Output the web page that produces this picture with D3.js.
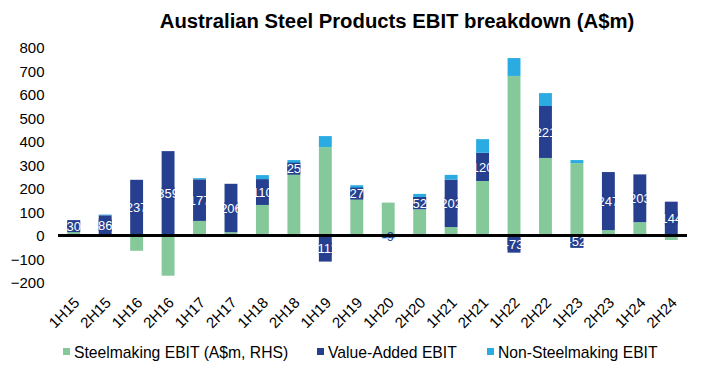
<!DOCTYPE html>
<html>
<head>
<meta charset="utf-8">
<script src="https://cdn.jsdelivr.net/npm/d3@7"></script>
<style>
  body { margin: 0; background: #fff; }
  svg { display: block; font-family: "Liberation Sans", Arial, sans-serif; }
</style>
</head>
<body>
<div id="chart"></div>
<script>
// Data
var categories  = ["1H15", "2H15", "1H16", "2H16", "1H17", "2H17", "1H18", "2H18", "1H19", "2H19",
                   "1H20", "2H20", "1H21", "2H21", "1H22", "2H22", "1H23", "2H23", "1H24", "2H24"];
var steelmaking = [25, 0, -65, -171, 62, 14, 130, 272, 376, 165, 140, 112, 36, 232, 679, 330, 308, 23, 57, -19];
var valueAdded  = [30, 86, 237, 359, 177, 206, 110, 25, -111, 27, -9, 52, 202, 120, -73, 221, -52, 247, 203, 144];
var nonSteel    = [8, 3, 0, 0, 5, 0, 17, 24, 47, 22, -3, 13, 20, 58, 76, 55, 13, 0, 0, 0];
var yTicks      = [-200, -100, 0, 100, 200, 300, 400, 500, 600, 700, 800];
var seriesNames = ["Steelmaking EBIT (A$m, RHS)", "Value-Added EBIT", "Non-Steelmaking EBIT"];

// Width and height
var chart_width  = 701;
var chart_height = 377;
var colors = ["#85c99b", "#263f8f", "#2aace3"];
var keys   = ["steel", "va", "ns"];
var font   = "'Liberation Sans', Arial, sans-serif";

// rows for the stack layout
var rows = categories.map(function(c, i) {
    return { cat: c, steel: steelmaking[i], va: valueAdded[i], ns: nonSteel[i] };
});

// positives stack up from 0, negatives stack down from 0 (like excel)
var stacked = d3.stack()
    .keys(keys)
    .offset(d3.stackOffsetDiverging)(rows);

// Scales
var x = d3.scaleBand()
    .domain(categories)
    .range([58, 687])
    .paddingInner(0.59)
    .paddingOuter(0.295);

var y = d3.scaleLinear()
    .domain([-200, 800])
    .range([282.5, 47.5]);

// SVG
var svg = d3.select("#chart")
    .append("svg")
    .attr("width", chart_width)
    .attr("height", chart_height);

// Title
svg.append("text")
    .attr("x", 397)
    .attr("y", 28)
    .attr("text-anchor", "middle")
    .style("font-size", "20.3px")
    .style("font-weight", "bold")
    .text("Australian Steel Products EBIT breakdown (A$m)");

// Y axis (labels only)
var yAxis = svg.append("g")
    .attr("transform", "translate(44.5,0)")
    .call(d3.axisLeft(y).tickValues(yTicks).tickSize(0).tickPadding(0).tickFormat(d3.format("d")));
yAxis.attr("font-family", font).attr("font-size", 15);
yAxis.select(".domain").remove();
yAxis.selectAll("text")
    .attr("fill", "#000")
    .attr("dy", "0.36em");

// Bars
svg.selectAll("g.series")
    .data(stacked)
    .enter()
    .append("g")
    .attr("class", "series")
    .attr("fill", function(d, i) { return colors[i]; })
    .selectAll("rect")
    .data(function(d) { return d; })
    .enter()
    .append("rect")
    .attr("x", function(d) { return x(d.data.cat); })
    .attr("width", x.bandwidth())
    .attr("y", function(d) { return y(Math.max(d[0], d[1])); })
    .attr("height", function(d) { return Math.abs(y(d[0]) - y(d[1])); });

// Value-added data labels
var vaSeries = stacked[1];
var labels = svg.append("g")
    .selectAll("g")
    .data(vaSeries)
    .enter()
    .append("g")
    .attr("transform", function(d) {
        return "translate(" + (x(d.data.cat) + x.bandwidth() / 2) + "," + y((d[0] + d[1]) / 2) + ")";
    });

// label box, skipped for the tiny ones
labels.filter(function(d) { return Math.abs(d.data.va) >= 15; })
    .append("rect")
    .attr("x", -x.bandwidth() / 2)
    .attr("width", x.bandwidth())
    .attr("y", -6)
    .attr("height", 12)
    .attr("fill", colors[1]);

labels.append("text")
    .attr("text-anchor", "middle")
    .attr("dy", "0.36em")
    .style("font-size", "13px")
    .attr("fill", function(d) { return Math.abs(d.data.va) >= 15 ? "#fff" : colors[1]; })
    .text(function(d) { return d.data.va; });

// Zero line
svg.append("line")
    .attr("x1", 58)
    .attr("x2", 687)
    .attr("y1", y(0))
    .attr("y2", y(0))
    .style("stroke", "#000")
    .style("stroke-width", 3);

// X labels, rotated
svg.append("g")
    .selectAll("text")
    .data(categories)
    .enter()
    .append("text")
    .attr("transform", function(d) {
        return "translate(" + (x(d) + x.bandwidth() / 2 + 3) + ",300) rotate(-45)";
    })
    .attr("text-anchor", "end")
    .attr("dy", "0.35em")
    .style("font-size", "15px")
    .text(function(d) { return d; });

// Legend
var legendX = [63, 317, 487];
var legend = svg.append("g")
    .selectAll("g")
    .data(seriesNames)
    .enter()
    .append("g")
    .attr("transform", function(d, i) { return "translate(" + legendX[i] + ",352)"; });

legend.append("rect")
    .attr("x", 0)
    .attr("y", -4)
    .attr("width", 7)
    .attr("height", 7)
    .attr("fill", function(d, i) { return colors[i]; });

legend.append("text")
    .attr("x", 11)
    .attr("dy", "0.36em")
    .style("font-size", "15.7px")
    .text(function(d) { return d; });
</script>
</body>
</html>
